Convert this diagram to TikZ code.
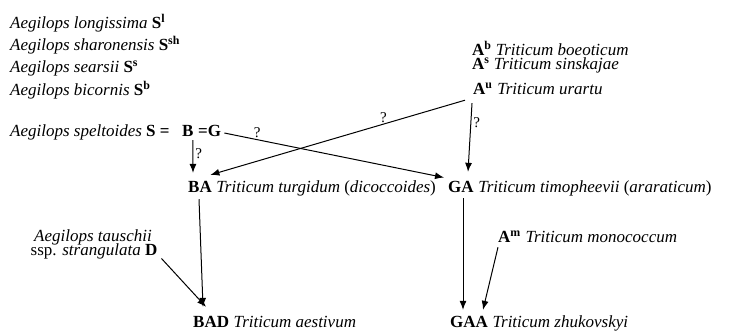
\documentclass[tikz,border=0pt]{standalone}
\usepackage{fontspec}
\setmainfont{Liberation Serif}
\usetikzlibrary{arrows.meta}
\newcommand\gsup[2]{\textbf{#1}\textsuperscript{\textbf{#2}}}
\begin{document}
\begin{tikzpicture}[x=1pt,y=-1pt,
  txt/.style={inner sep=0pt,anchor=base west,font=\fontsize{17}{20}\selectfont},
  conn/.style={line width=1pt,-{Latex[length=9pt,width=7pt]}},
  qm/.style={font=\fontsize{15}{18}\selectfont,inner sep=1pt}]
\useasboundingbox (0,0) rectangle (731,331);
% left column
\node[txt] (l1) at (10,29) {\textit{Aegilops longissima} \gsup{S}{l}};
\node[txt] (l2) at (10,51) {\textit{Aegilops sharonensis} \gsup{S}{sh}};
\node[txt] (l3) at (10,73) {\textit{Aegilops searsii} \gsup{S}{s}};
\node[txt] (l4) at (10,96) {\textit{Aegilops bicornis} \gsup{S}{b}};
\node[txt] (spA) at (10,137) {\textit{Aegilops speltoides} \textbf{S =}};
\node[txt] (spB) at (182,137) {\textbf{B}};
\node[txt] (spG) at (198,137) {\textbf{=G}};
% right top
\node[txt] (Ab) at (472,56) {\gsup{A}{b} \textit{Triticum boeoticum}};
\node[txt] (As) at (472,70) {\gsup{A}{s} \textit{Triticum sinskajae}};
\node[txt] (Au) at (473,95) {\gsup{A}{u}};
\node[txt] (Aut) at ([xshift=4.25pt]Au.base east) {\textit{Triticum urartu}};
% middle row
\node[txt] (BA) at (188,193) {\textbf{BA}};
\node[txt] (BAt) at ([xshift=4.25pt]BA.base east) {\textit{Triticum turgidum} (\textit{dicoccoides})};
\node[txt] (GA) at (448,193) {\textbf{GA}};
\node[txt] (GAt) at ([xshift=4.25pt]GA.base east) {\textit{Triticum timopheevii} (\textit{araraticum})};
% lower
\node[txt,anchor=base] (t1) at (93,241) {\textit{Aegilops tauschii}};
\node[txt,anchor=base] (t2) at (94,255.5) {ssp. \textit{strangulata} \textbf{D}};
\node[txt] (Am) at (498,243) {\gsup{A}{m}};
\node[txt] (Amt) at ([xshift=4.25pt]Am.base east) {\textit{Triticum monococcum}};
% bottom
\node[txt] (BAD) at (193,327) {\textbf{BAD}};
\node[txt] (BADt) at ([xshift=4.25pt]BAD.base east) {\textit{Triticum aestivum}};
\node[txt] (GAA) at (450,327) {\textbf{GAA}};
\node[txt] (GAAt) at ([xshift=4.25pt]GAA.base east) {\textit{Triticum zhukovskyi}};
% connectors
\draw[conn] ([xshift=5pt,yshift=-3pt]spB.south) -- node[qm,right,pos=0.4,xshift=1pt]{?} ([xshift=5pt,yshift=8.7pt]BA.north west);
\draw[conn] ([xshift=3pt,yshift=4pt]spG.base east) -- node[qm,above,pos=0.15]{?} ([xshift=-4pt,yshift=4pt]GA.north west);
\draw[conn] ([xshift=-8pt,yshift=-5pt]Au.south west) -- node[qm,above,pos=0.32]{?} ([xshift=-1.6pt,yshift=6.7pt]BA.north east);
\draw[conn] ([xshift=-1pt,yshift=-8pt]Au.south west) -- node[qm,right,pos=0.28,xshift=1pt]{?} ([xshift=20pt,yshift=9.7pt]GA.north west);
\draw[conn] ([xshift=15pt,yshift=-5pt]GA.south west) -- ([xshift=13pt,yshift=5.7pt]GAA.north west);
\draw[conn] ([yshift=-4pt]Am.south west) -- ([xshift=33pt,yshift=5.7pt]GAA.north west);
\draw[conn] ([xshift=11pt,yshift=-6pt]BA.south west) -- ([xshift=10pt,yshift=8.7pt]BAD.north west);
\draw[conn] ([xshift=4pt,yshift=-3pt]t2.base east) -- ([xshift=13pt,yshift=8.7pt]BAD.north west);
\end{tikzpicture}
\end{document}
